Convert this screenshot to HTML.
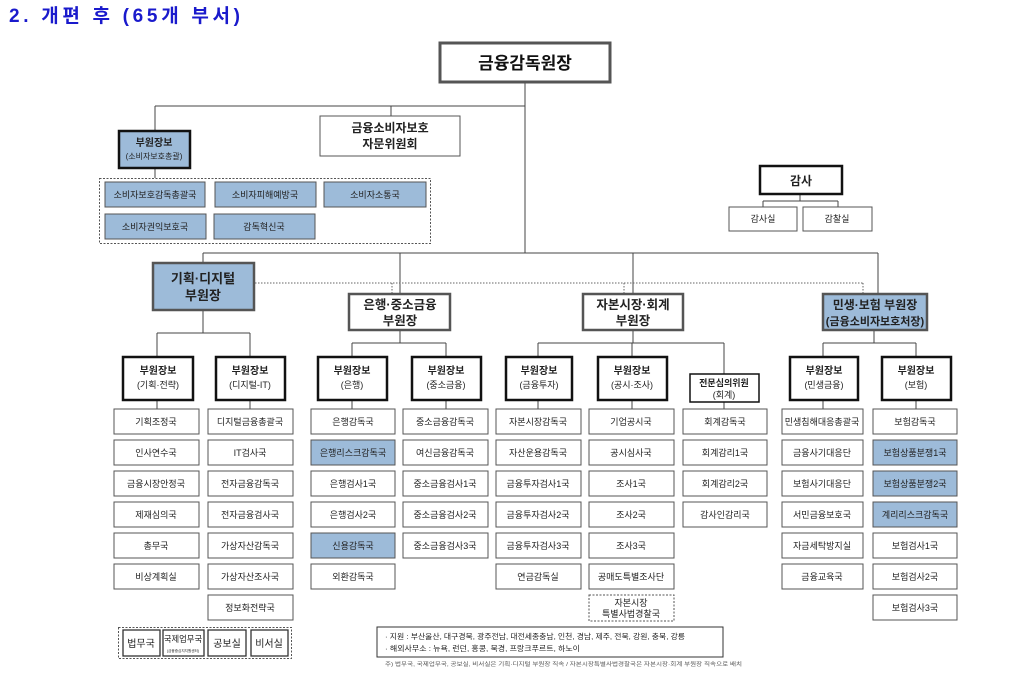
<!DOCTYPE html>
<html><head><meta charset="utf-8"><style>
html,body{margin:0;padding:0;background:#fff;}
svg{display:block;font-family:"Liberation Sans","Noto Sans CJK KR",sans-serif;}
.l{stroke:#444;stroke-width:1;fill:none}
.lf{fill:#fff;stroke:#555;stroke-width:1}
.bl{fill:#9dbbd9}
.t{font-size:9px;fill:#222;text-anchor:middle}
.b{font-weight:bold}
</style></head><body>
<svg width="1027" height="692" viewBox="0 0 1027 692" xmlns="http://www.w3.org/2000/svg">
<text x="9" y="22" font-size="19" font-weight="bold" fill="#1a1acc" textLength="231" lengthAdjust="spacing">2. 개편 후 (65개 부서)</text>

<!-- connectors -->
<g class="l">
<path d="M525 83V253M155 106H525M155 106V130M391 106V116M155 168V178"/>
<path d="M800 194V201M763 201H838M763 201V207M838 201V207"/>
<path d="M203 253H878M203 253V262M400 253V293M633 253V293M878 253V293"/>
<path d="M203 310V333M157 333H250M157 333V356M250 333V356"/>
<path d="M400 330V343M352 343H446M352 343V356M446 343V356"/>
<path d="M633 330V343M538 343H724M538 343V356M632 343V356M724 343V374"/>
<path d="M874 330V343M823 343H916M823 343V356M916 343V356"/>
<path d="M157 400V409M250 400V409M352 400V409M446 400V409M538 400V409M632 400V409M724 402V409M823 400V409M916 400V409"/>
</g>
<path d="M255 283H863M392 283V293M624 283V293M863 283V293" stroke="#666" stroke-dasharray="1.5,1.5" fill="none"/>

<!-- head -->
<rect x="440" y="43" width="170" height="39" fill="#fff" stroke="#555" stroke-width="3"/>
<text x="525" y="69" font-size="17" font-weight="bold" text-anchor="middle" fill="#111">금융감독원장</text>

<rect x="320" y="116" width="140" height="40" fill="#fff" stroke="#555"/>
<text class="t b" x="390" y="132" style="font-size:12px">금융소비자보호</text>
<text class="t b" x="390" y="148" style="font-size:12px">자문위원회</text>

<rect x="119" y="131" width="71" height="37" class="bl" stroke="#111" stroke-width="2.5"/>
<text class="t b" x="154" y="146" style="font-size:10px">부원장보</text>
<text class="t" x="154" y="159" style="font-size:8px">(소비자보호총괄)</text>

<rect x="99.5" y="178.5" width="331" height="65" fill="none" stroke="#555" stroke-dasharray="2,1.5"/>
<g stroke="#555">
<rect x="105" y="182" width="100" height="25" class="bl"/>
<rect x="215" y="182" width="101" height="25" class="bl"/>
<rect x="324" y="182" width="102" height="25" class="bl"/>
<rect x="105" y="214" width="101" height="25" class="bl"/>
<rect x="214" y="214" width="101" height="25" class="bl"/>
</g>
<text class="t" x="155" y="198">소비자보호감독총괄국</text>
<text class="t" x="265" y="198">소비자피해예방국</text>
<text class="t" x="375" y="198">소비자소통국</text>
<text class="t" x="155" y="230">소비자권익보호국</text>
<text class="t" x="264" y="230">감독혁신국</text>

<!-- audit -->
<rect x="760" y="166" width="82" height="28" fill="#fff" stroke="#111" stroke-width="2.5"/>
<text class="t b" x="801" y="185" style="font-size:12px">감사</text>
<rect x="729" y="207" width="68" height="24" class="lf"/>
<rect x="803" y="207" width="69" height="24" class="lf"/>
<text class="t" x="763" y="222">감사실</text>
<text class="t" x="837" y="222">감찰실</text>

<!-- VPs -->
<rect x="153" y="263" width="101" height="47" class="bl" stroke="#555" stroke-width="2.5"/>
<text class="t b" x="203" y="283" style="font-size:13px">기획·디지털</text>
<text class="t b" x="203" y="300" style="font-size:13px">부원장</text>
<rect x="349" y="294" width="101" height="36" fill="#fff" stroke="#555" stroke-width="2.5"/>
<text class="t b" x="400" y="309" style="font-size:12.5px">은행·중소금융</text>
<text class="t b" x="400" y="325" style="font-size:12.5px">부원장</text>
<rect x="583" y="294" width="100" height="36" fill="#fff" stroke="#555" stroke-width="2.5"/>
<text class="t b" x="633" y="309" style="font-size:12.5px">자본시장·회계</text>
<text class="t b" x="633" y="325" style="font-size:12.5px">부원장</text>
<rect x="823" y="294" width="104" height="36" class="bl" stroke="#555" stroke-width="2.5"/>
<text class="t b" x="875" y="309" style="font-size:12px">민생·보험 부원장</text>
<text class="t b" x="875" y="325" style="font-size:11px">(금융소비자보호처장)</text>

<!-- 부원장보 -->
<g fill="#fff" stroke="#111" stroke-width="2.5">
<rect x="123" y="357" width="70" height="43"/>
<rect x="216" y="357" width="69" height="43"/>
<rect x="318" y="357" width="69" height="43"/>
<rect x="412" y="357" width="69" height="43"/>
<rect x="506" y="357" width="66" height="43"/>
<rect x="598" y="357" width="69" height="43"/>
<rect x="790" y="357" width="68" height="43"/>
<rect x="882" y="357" width="69" height="43"/>
</g>
<rect x="690" y="374" width="69" height="28" fill="#fff" stroke="#111" stroke-width="1.5"/>
<g class="t">
<text class="b" x="158" y="374" style="font-size:10px">부원장보</text><text x="158" y="388">(기획·전략)</text>
<text class="b" x="250" y="374" style="font-size:10px">부원장보</text><text x="250" y="388">(디지털-IT)</text>
<text class="b" x="352" y="374" style="font-size:10px">부원장보</text><text x="352" y="388">(은행)</text>
<text class="b" x="446" y="374" style="font-size:10px">부원장보</text><text x="446" y="388">(중소금융)</text>
<text class="b" x="539" y="374" style="font-size:10px">부원장보</text><text x="539" y="388">(금융투자)</text>
<text class="b" x="632" y="374" style="font-size:10px">부원장보</text><text x="632" y="388">(공시·조사)</text>
<text class="b" x="724" y="386" style="font-size:9px">전문심의위원</text><text x="724" y="398">(회계)</text>
<text class="b" x="824" y="374" style="font-size:10px">부원장보</text><text x="824" y="388">(민생금융)</text>
<text class="b" x="916" y="374" style="font-size:10px">부원장보</text><text x="916" y="388">(보험)</text>
</g>

<!-- leaves -->
<g class="lf">
<rect x="114" y="409" width="85" height="25"/><rect x="114" y="440" width="85" height="25"/><rect x="114" y="471" width="85" height="25"/><rect x="114" y="502" width="85" height="25"/><rect x="114" y="533" width="85" height="25"/><rect x="114" y="564" width="85" height="25"/>
<rect x="208" y="409" width="85" height="25"/><rect x="208" y="440" width="85" height="25"/><rect x="208" y="471" width="85" height="25"/><rect x="208" y="502" width="85" height="25"/><rect x="208" y="533" width="85" height="25"/><rect x="208" y="564" width="85" height="25"/><rect x="208" y="595" width="85" height="25"/>
<rect x="311" y="409" width="84" height="25"/><rect x="311" y="440" width="84" height="25" style="fill:#9dbbd9"/><rect x="311" y="471" width="84" height="25"/><rect x="311" y="502" width="84" height="25"/><rect x="311" y="533" width="84" height="25" style="fill:#9dbbd9"/><rect x="311" y="564" width="84" height="25"/>
<rect x="403" y="409" width="85" height="25"/><rect x="403" y="440" width="85" height="25"/><rect x="403" y="471" width="85" height="25"/><rect x="403" y="502" width="85" height="25"/><rect x="403" y="533" width="85" height="25"/>
<rect x="496" y="409" width="85" height="25"/><rect x="496" y="440" width="85" height="25"/><rect x="496" y="471" width="85" height="25"/><rect x="496" y="502" width="85" height="25"/><rect x="496" y="533" width="85" height="25"/><rect x="496" y="564" width="85" height="25"/>
<rect x="589" y="409" width="85" height="25"/><rect x="589" y="440" width="85" height="25"/><rect x="589" y="471" width="85" height="25"/><rect x="589" y="502" width="85" height="25"/><rect x="589" y="533" width="85" height="25"/><rect x="589" y="564" width="85" height="25"/>
<rect x="589" y="595" width="85" height="26" style="stroke-dasharray:2,1.5"/>
<rect x="683" y="409" width="84" height="25"/><rect x="683" y="440" width="84" height="25"/><rect x="683" y="471" width="84" height="25"/><rect x="683" y="502" width="84" height="25"/>
<rect x="782" y="409" width="81" height="25"/><rect x="782" y="440" width="81" height="25"/><rect x="782" y="471" width="81" height="25"/><rect x="782" y="502" width="81" height="25"/><rect x="782" y="533" width="81" height="25"/><rect x="782" y="564" width="81" height="25"/>
<rect x="873" y="409" width="84" height="25"/><rect x="873" y="440" width="84" height="25" style="fill:#9dbbd9"/><rect x="873" y="471" width="84" height="25" style="fill:#9dbbd9"/><rect x="873" y="502" width="84" height="25" style="fill:#9dbbd9"/><rect x="873" y="533" width="84" height="25"/><rect x="873" y="564" width="84" height="25"/><rect x="873" y="595" width="84" height="25"/>
</g>
<g class="t">
<text x="156" y="425">기획조정국</text><text x="156" y="456">인사연수국</text><text x="156" y="487">금융시장안정국</text><text x="156" y="518">제재심의국</text><text x="156" y="549">총무국</text><text x="156" y="580">비상계획실</text>
<text x="250" y="425">디지털금융총괄국</text><text x="250" y="456">IT검사국</text><text x="250" y="487">전자금융감독국</text><text x="250" y="518">전자금융검사국</text><text x="250" y="549">가상자산감독국</text><text x="250" y="580">가상자산조사국</text><text x="250" y="611">정보화전략국</text>
<text x="353" y="425">은행감독국</text><text x="353" y="456">은행리스크감독국</text><text x="353" y="487">은행검사1국</text><text x="353" y="518">은행검사2국</text><text x="353" y="549">신용감독국</text><text x="353" y="580">외환감독국</text>
<text x="445" y="425">중소금융감독국</text><text x="445" y="456">여신금융감독국</text><text x="445" y="487">중소금융검사1국</text><text x="445" y="518">중소금융검사2국</text><text x="445" y="549">중소금융검사3국</text>
<text x="538" y="425">자본시장감독국</text><text x="538" y="456">자산운용감독국</text><text x="538" y="487">금융투자검사1국</text><text x="538" y="518">금융투자검사2국</text><text x="538" y="549">금융투자검사3국</text><text x="538" y="580">연금감독실</text>
<text x="631" y="425">기업공시국</text><text x="631" y="456">공시심사국</text><text x="631" y="487">조사1국</text><text x="631" y="518">조사2국</text><text x="631" y="549">조사3국</text><text x="631" y="580">공매도특별조사단</text>
<text x="631" y="606">자본시장</text><text x="631" y="617">특별사법경찰국</text>
<text x="725" y="425">회계감독국</text><text x="725" y="456">회계감리1국</text><text x="725" y="487">회계감리2국</text><text x="725" y="518">감사인감리국</text>
<text x="822" y="425">민생침해대응총괄국</text><text x="822" y="456">금융사기대응단</text><text x="822" y="487">보험사기대응단</text><text x="822" y="518">서민금융보호국</text><text x="822" y="549">자금세탁방지실</text><text x="822" y="580">금융교육국</text>
<text x="915" y="425">보험감독국</text><text x="915" y="456">보험상품분쟁1국</text><text x="915" y="487">보험상품분쟁2국</text><text x="915" y="518">계리리스크감독국</text><text x="915" y="549">보험검사1국</text><text x="915" y="580">보험검사2국</text><text x="915" y="611">보험검사3국</text>
</g>

<!-- bottom -->
<rect x="118.5" y="627.5" width="173" height="31" fill="none" stroke="#555" stroke-dasharray="2,1.5"/>
<g fill="#fff" stroke="#333" stroke-width="1.3">
<rect x="123" y="630" width="37" height="26"/><rect x="163" y="630" width="41" height="26"/><rect x="208" y="630" width="38" height="26"/><rect x="251" y="630" width="37" height="26"/>
</g>
<g class="t">
<text x="141" y="647" style="font-size:10px">법무국</text>
<text x="183" y="642" style="font-size:8.3px">국제업무국</text>
<text x="183" y="652" style="font-size:3.6px">(금융중심지지원센터)</text>
<text x="227" y="647" style="font-size:10px">공보실</text>
<text x="269" y="647" style="font-size:10px">비서실</text>
</g>
<rect x="377" y="627" width="346" height="30" fill="#fff" stroke="#333"/>
<text x="385" y="639" font-size="7.5" fill="#222" textLength="300" lengthAdjust="spacingAndGlyphs">· 지원 : 부산울산, 대구경북, 광주전남, 대전세종충남, 인천, 경남, 제주, 전북, 강원, 충북, 강릉</text>
<text x="385" y="651" font-size="7.5" fill="#222" textLength="195" lengthAdjust="spacingAndGlyphs">· 해외사무소 :  뉴욕, 런던, 홍콩, 북경, 프랑크푸르트, 하노이</text>
<text x="385" y="666" font-size="5.5" fill="#555" textLength="357" lengthAdjust="spacingAndGlyphs">주) 법무국, 국제업무국, 공보실, 비서실은 기획·디지털 부원장 직속 / 자본시장특별사법경찰국은 자본시장·회계 부원장 직속으로 배치</text>
</svg>
</body></html>
